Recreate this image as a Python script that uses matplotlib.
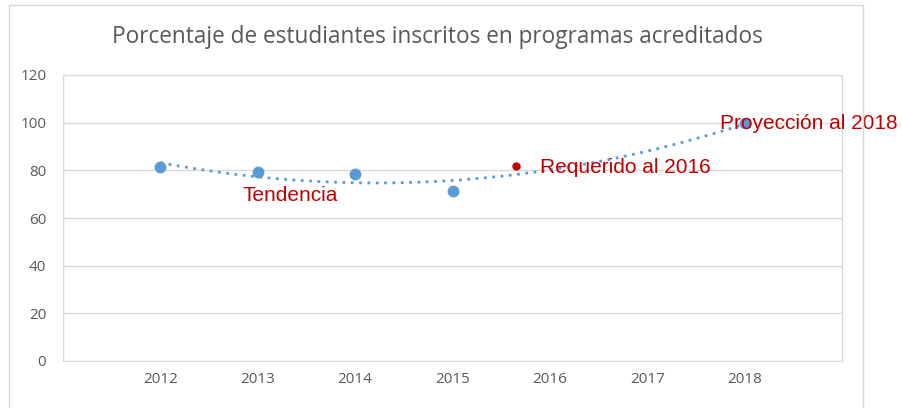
import numpy as np
from matplotlib import pyplot as plt
from matplotlib.patches import Rectangle

# data
years = [2012, 2013, 2014, 2015, 2018]
values = [81.3, 79.3, 78.3, 71.5, 100]
required_x = [2015.65]
required_y = [81.7]
year_ticks = [2012, 2013, 2014, 2015, 2016, 2017, 2018]
y_ticks = [0, 20, 40, 60, 80, 100, 120]

blue = '#5B9BD5'
red = '#C00000'
grey_txt = '#595959'
grid_c = '#D9D9D9'

fig = plt.figure(figsize=(9.02, 4.08), dpi=100)
ax = fig.add_axes([63 / 902, 1 - 361 / 408, (842 - 63) / 902, (361 - 75) / 408])

# outer chart frame
fig.patches.append(Rectangle((9 / 902, -0.05), (863 - 9) / 902, 1.05 - 5 / 408,
                             transform=fig.transFigure, fill=False,
                             edgecolor=grid_c, linewidth=1))

# 2nd order trend line like Excel's
coef = np.polyfit(years, values, 2)
xt = np.linspace(years[0], years[-1], 200)
ax.plot(xt, np.polyval(coef, xt), linestyle=(0, (1, 2.0)), color=blue, linewidth=2, zorder=2)

ax.plot(years, values, 'o', color=blue, markersize=7.5, zorder=3)
ax.plot(required_x, required_y, 'o', color=red, markersize=5, zorder=3)

ax.set_xlim(2011, 2019)
ax.set_ylim(0, 120)
ax.set_xticks(year_ticks)
ax.set_yticks(y_ticks)
ax.set_xticks(np.arange(2011, 2020), minor=True)
ax.grid(which='minor', axis='x', color=grid_c, linewidth=1)
ax.grid(which='major', axis='y', color=grid_c, linewidth=1)
ax.tick_params(which='both', length=0, colors=grey_txt, labelsize=11, pad=8)
ax.tick_params(axis='y', pad=12)
for lbl in ax.get_xticklabels() + ax.get_yticklabels():
    lbl.set_family('Open Sans')
for s in ax.spines.values():
    s.set_color(grid_c)

lab = dict(color=red, fontsize=15, family='Liberation Sans', va='center')
ax.text(2012.84, 69.5, 'Tendencia', **lab)
ax.text(2015.9, 81.3, 'Requerido al 2016', **lab)
ax.text(2017.75, 99.7, 'Proyección al 2018', **lab)

fig.text(437 / 902, 1 - 37 / 408, 'Porcentaje de estudiantes inscritos en programas acreditados',
         ha='center', va='center', color=grey_txt, fontsize=16.3, family='Open Sans')

fig.savefig('out.png', dpi=100)
